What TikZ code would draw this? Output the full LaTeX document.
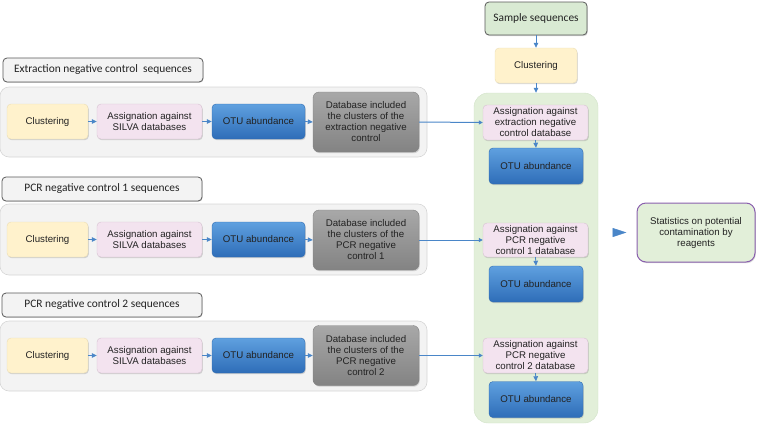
\documentclass[tikz,border=0pt]{standalone}
\usepackage{fontspec}
\setmainfont{Liberation Sans}
\newfontfamily\titlefont{Carlito}
\usetikzlibrary{arrows.meta,shadows}
\definecolor{arrowblue}{HTML}{4A86C8}
\definecolor{clusfill}{HTML}{FFF2CC}
\definecolor{clusdraw}{HTML}{EBDDB5}
\definecolor{asgfill}{HTML}{F3E3EF}
\definecolor{asgdraw}{HTML}{D6C2D1}
\definecolor{otutop}{HTML}{5FA0DF}
\definecolor{otubot}{HTML}{2E6DB8}
\definecolor{otudraw}{HTML}{2F6CB2}
\definecolor{dbtop}{HTML}{A8A8A8}
\definecolor{dbbot}{HTML}{838383}
\definecolor{grpfill}{HTML}{F3F3F3}
\definecolor{grpdraw}{HTML}{D6D6D6}
\definecolor{greenfill}{HTML}{E2EFD9}
\definecolor{greendraw}{HTML}{D2E2C8}
\definecolor{greenbox}{HTML}{D9EAD3}
\definecolor{statdraw}{HTML}{8A5FAE}
\definecolor{txt}{HTML}{222222}
\tikzset{
  base/.style={rounded corners=4pt, align=center, inner sep=1pt, text=txt, font=\fontsize{9.7}{11}\selectfont,
    drop shadow={shadow xshift=0.8pt, shadow yshift=-1.2pt, opacity=0.3}},
  titlebox/.style={rounded corners=4pt, draw=black!65, fill=grpfill, line width=0.8pt, text=txt,
    minimum width=200pt, minimum height=24pt, font=\titlefont\fontsize{11.4}{13}\selectfont,
    drop shadow={shadow xshift=0.6pt, shadow yshift=-0.8pt, opacity=0.3}},
  grp/.style={rounded corners=9pt, draw=grpdraw, fill=grpfill, line width=0.6pt},
  clus/.style={base, fill=clusfill, draw=clusdraw, minimum width=81pt, minimum height=35pt},
  asg/.style={base, fill=asgfill, draw=asgdraw, minimum width=105pt, minimum height=35pt},
  otu/.style={base, top color=otutop, bottom color=otubot, draw=otudraw, minimum width=93pt, minimum height=35pt},
  dbbox/.style={base, top color=dbtop, bottom color=dbbot, draw=dbbot, minimum width=106pt, minimum height=60pt, rounded corners=6pt},
  tip/.style={draw=arrowblue, line width=0.8pt, -{Triangle[length=5pt,width=4.5pt]}},
  conn/.style={draw=arrowblue, line width=1pt, -{Triangle[length=4pt,width=4pt]}},
}
\begin{document}
\begin{tikzpicture}[x=1pt,y=-1pt]
\useasboundingbox (0,0) rectangle (758,424);

% ---------- left rows ----------
\node[titlebox] (t1) at (103,70) {Extraction negative control\ \ sequences};
\node[grp, minimum width=427pt, minimum height=70pt] (g1) at (213.5,122) {};
\node[clus] (c1) at (47.5,121.5) {Clustering};
\node[asg] (a1) at (149.5,121.5) {Assignation against\\SILVA databases};
\node[otu] (o1) at (258.5,121.5) {OTU abundance};
\node[dbbox] (d1) at (366,122) {Database included\\the clusters of the\\extraction negative\\control};

\node[titlebox] (t2) at (102,189) {PCR negative control 1 sequences};
\node[grp, minimum width=427pt, minimum height=71pt] (g2) at (213.5,239.5) {};
\node[clus] (c2) at (47.5,239.5) {Clustering};
\node[asg] (a2) at (149.5,239.5) {Assignation against\\SILVA databases};
\node[otu] (o2) at (258.5,239.5) {OTU abundance};
\node[dbbox] (d2) at (366,240) {Database included\\the clusters of the\\PCR negative\\control 1};

\node[titlebox] (t3) at (102,305) {PCR negative control 2 sequences};
\node[grp, minimum width=427pt, minimum height=70pt] (g3) at (213.5,356) {};
\node[clus] (c3) at (47.5,355.5) {Clustering};
\node[asg] (a3) at (149.5,355.5) {Assignation against\\SILVA databases};
\node[otu] (o3) at (258.5,355.5) {OTU abundance};
\node[dbbox] (d3) at (366,355.5) {Database included\\the clusters of the\\PCR negative\\control 2};

\foreach \r in {1,2,3}{
  \draw[tip] (c\r.east) -- (a\r.west);
  \draw[tip] (a\r.east) -- (o\r.west);
  \draw[tip] (o\r.east) -- (d\r.west);
}

% ---------- right column ----------
\node[base, fill=greenbox, draw=black!65, line width=0.8pt, minimum width=102pt, minimum height=33pt,
  font=\titlefont\fontsize{11.4}{13}\selectfont] (ss) at (536,18.5) {Sample sequences};
\node[clus, minimum width=82pt] (cr) at (536,65.5) {Clustering};
\node[rounded corners=14pt, fill=greenfill, draw=greendraw, minimum width=124pt, minimum height=330pt] (gc) at (536,258) {};

\node[asg] (r1) at (535.5,122.5) {Assignation against\\extraction negative\\control database};
\node[otu, minimum width=94pt, minimum height=36pt] (q1) at (536,166) {OTU abundance};
\node[asg, minimum height=34pt] (r2) at (535.5,240) {Assignation against\\PCR negative\\control 1 database};
\node[otu, minimum width=94pt, minimum height=36pt] (q2) at (536,284) {OTU abundance};
\node[asg] (r3) at (535.5,355.5) {Assignation against\\PCR negative\\control 2 database};
\node[otu, minimum width=94pt, minimum height=36pt] (q3) at (536,399.5) {OTU abundance};

\node[base, fill=greenfill, draw=statdraw, line width=1pt, rounded corners=9pt, minimum width=118pt, minimum height=59pt] (st) at (696,232.5) {Statistics on potential\\contamination by\\reagents};

\draw[tip] (ss.south) -- (cr.north);
\draw[tip] (cr.south) -- (gc.north);
\foreach \r in {1,2,3}{
  \draw[tip] (r\r.south) -- (q\r.north);
  \draw[conn] (d\r.east) -- (r\r.west);
}
\draw[arrowblue, line width=0.5pt, shorten <=15pt, shorten >=10pt, -{Triangle[length=14pt,width=9pt]}] (gc.east |- st.west) -- (st.west);
\end{tikzpicture}
\end{document}
